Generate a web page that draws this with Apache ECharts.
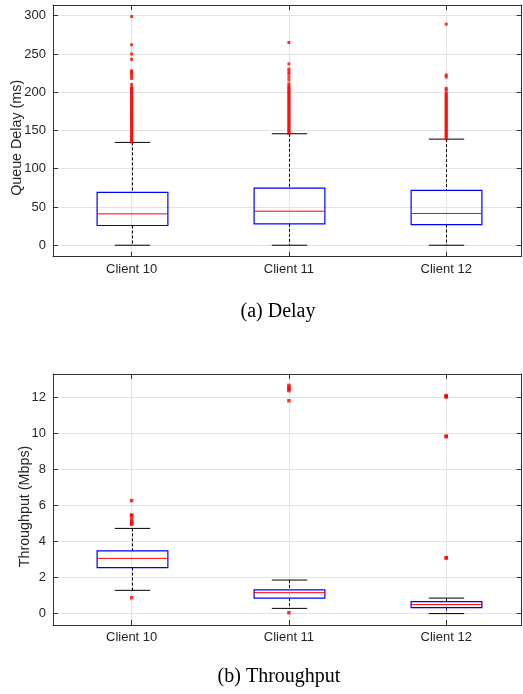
<!DOCTYPE html>
<html>
<head>
<meta charset="utf-8">
<script src="https://cdn.jsdelivr.net/npm/echarts@6/dist/echarts.min.js"></script>
<style>
html, body { margin: 0; padding: 0; background: #fff; }
#main { width: 523px; height: 694px; }
</style>
</head>
<body>
<div id="main"></div>
<script>
var clients = ['Client 10', 'Client 11', 'Client 12']

// box stats per client: [lower whisker, q1, median, q3, upper whisker]
var delayBoxes = [
  [0, 25.8, 41, 69, 134.4],
  [0, 27.9, 44.5, 74.6, 145.7],
  [0, 27, 41.5, 71.6, 138.7]
]
// outliers (the dense parts look like a solid red bar)
var delayOut10 = [135, 137, 139, 141, 143, 145, 147, 149, 151, 153, 155, 157, 159, 161, 163, 165, 167, 169, 171, 173,
  175, 177, 179, 181, 183, 185, 187, 189, 191, 193, 195, 197, 199, 201, 203, 205, 206, 210, 218, 221, 224, 226, 228,
  243, 250, 262, 299]
var delayOut11 = [146, 148, 150, 152, 154, 156, 158, 160, 162, 164, 166, 168, 170, 172, 174, 176, 178, 180, 182, 184,
  186, 188, 190, 192, 194, 196, 198, 200, 202, 204, 206, 208, 211, 216, 220, 224, 227, 230, 237, 265]
var delayOut12 = [139, 141, 143, 145, 147, 149, 151, 153, 155, 157, 159, 161, 163, 165, 167, 169, 171, 173, 175, 177,
  179, 181, 183, 185, 187, 189, 191, 193, 195, 197, 199, 202.6, 205, 220, 222.5, 289]

var thrBoxes = [
  [1.29, 2.55, 3.06, 3.47, 4.72],
  [0.29, 0.86, 1.16, 1.31, 1.86],
  [0, 0.33, 0.5, 0.66, 0.86]
]
var thrOut10 = [0.88, 4.95, 5.02, 5.1, 5.24, 5.42, 5.46, 6.26]
var thrOut11 = [0.05, 11.79, 12.35, 12.44, 12.5, 12.64]
var thrOut12 = [3.08, 3.1, 9.8, 9.83, 12.0, 12.03, 12.07]

// axis ranges (matlab pads the data range by 5%)
var delayRange = [-15, 314], delayStep = 50
var thrRange = [-0.63, 13.27], thrStep = 2

var axisColor = '#333'
var textColor = '#262626'
var gridColor = '#e3e3e3'
var sans = 'Liberation Sans, Arial, sans-serif'

function boxData(boxes) {
  return boxes.map(function(b, i) { return [i + 1].concat(b) })
}
function outData(lists) {
  var out = []
  lists.forEach(function(l, i) {
    l.forEach(function(v) { out.push([i + 1, v]) })
  })
  return out
}

function renderBox(params, api) {
  var x = api.value(0)
  var lo = api.coord([x, api.value(1)])
  var q1 = api.coord([x, api.value(2)])
  var med = api.coord([x, api.value(3)])
  var q3 = api.coord([x, api.value(4)])
  var hi = api.coord([x, api.value(5)])
  var unit = api.size([1, 0])[0]
  var bw = unit * 0.45
  var cw = unit * 0.225
  var cx = Math.round(lo[0]) + 0.5
  var dash = { stroke: '#000', lineWidth: 1, lineDash: [3, 2] }
  var solid = { stroke: '#000', lineWidth: 1 }
  return {
    type: 'group',
    children: [
      { type: 'line', shape: { x1: cx, y1: hi[1], x2: cx, y2: q3[1] }, style: dash },
      { type: 'line', shape: { x1: cx, y1: q1[1], x2: cx, y2: lo[1] }, style: dash },
      { type: 'line', shape: { x1: cx - cw / 2, y1: hi[1], x2: cx + cw / 2, y2: hi[1] }, style: solid },
      { type: 'line', shape: { x1: cx - cw / 2, y1: lo[1], x2: cx + cw / 2, y2: lo[1] }, style: solid },
      { type: 'rect', shape: { x: cx - bw / 2, y: q3[1], width: bw, height: q1[1] - q3[1] },
        style: { fill: 'none', stroke: '#0000ff', lineWidth: 1.2 } },
      { type: 'line', shape: { x1: cx - bw / 2, y1: med[1], x2: cx + bw / 2, y2: med[1] },
        style: { stroke: '#ff0000', lineWidth: 1 } }
    ]
  }
}

function xAxes(gi) {
  var base = {
    type: 'value', gridIndex: gi, min: 0.5, max: 3.48, minInterval: 1, maxInterval: 1,
    axisLine: { onZero: false, lineStyle: { color: axisColor } },
    axisTick: { inside: true, length: 5, lineStyle: { color: axisColor } }
  }
  return [
    Object.assign({}, base, {
      position: 'bottom',
      axisLabel: {
        showMinLabel: false, showMaxLabel: false, margin: 6,
        color: textColor, fontSize: 13, fontFamily: sans,
        formatter: function(v) { return clients[v - 1] || '' }
      },
      splitLine: { show: true, lineStyle: { color: gridColor } }
    }),
    Object.assign({}, base, {
      position: 'top', axisLabel: { show: false }, splitLine: { show: false }
    })
  ]
}

function yAxes(gi, range, step, name, gap) {
  var base = {
    type: 'value', gridIndex: gi, min: range[0], max: range[1], minInterval: step, maxInterval: step,
    axisLine: { show: true, onZero: false, lineStyle: { color: axisColor } },
    axisTick: { show: true, inside: true, length: 5, lineStyle: { color: axisColor } }
  }
  return [
    Object.assign({}, base, {
      position: 'left',
      name: name, nameLocation: 'middle', nameGap: gap, nameMoveOverlap: false,
      nameTextStyle: { color: textColor, fontSize: 14.3, fontFamily: sans, padding: [0, 14, 0, 0] },
      axisLabel: {
        showMinLabel: false, showMaxLabel: false, margin: 7,
        color: textColor, fontSize: 13, fontFamily: sans
      },
      splitLine: { show: true, lineStyle: { color: gridColor } }
    }),
    Object.assign({}, base, {
      position: 'right', axisLabel: { show: false }, splitLine: { show: false }
    })
  ]
}

var chart = echarts.init(document.getElementById('main'))
chart.setOption({
  animation: false,
  backgroundColor: '#fff',
  title: [
    { text: '(a) Delay', left: 278, top: 302, textAlign: 'center', padding: 0,
      textStyle: { fontFamily: 'Liberation Serif, Times New Roman, serif', fontSize: 20, fontWeight: 'normal', color: '#000' } },
    { text: '(b) Throughput', left: 279, top: 667, textAlign: 'center', padding: 0,
      textStyle: { fontFamily: 'Liberation Serif, Times New Roman, serif', fontSize: 20, fontWeight: 'normal', color: '#000' } }
  ],
  grid: [
    { left: 53, top: 5, width: 468.7, height: 251.7, containLabel: false, outerBoundsMode: 'none' },
    { left: 53, top: 374, width: 468.7, height: 251, containLabel: false, outerBoundsMode: 'none' }
  ],
  xAxis: xAxes(0).concat(xAxes(1)),
  yAxis: yAxes(0, delayRange, delayStep, 'Queue Delay (ms)', 29)
    .concat(yAxes(1, thrRange, thrStep, 'Throughput (Mbps)', 21)),
  series: [
    {
      type: 'custom', xAxisIndex: 0, yAxisIndex: 0, renderItem: renderBox,
      encode: { x: 0, y: [1, 2, 3, 4, 5] }, data: boxData(delayBoxes), z: 2
    },
    {
      type: 'scatter', xAxisIndex: 0, yAxisIndex: 0, symbol: 'rect', symbolSize: 3,
      itemStyle: { color: '#ff0000' }, data: outData([delayOut10, delayOut11, delayOut12]), z: 3
    },
    {
      type: 'custom', xAxisIndex: 2, yAxisIndex: 2, renderItem: renderBox,
      encode: { x: 0, y: [1, 2, 3, 4, 5] }, data: boxData(thrBoxes), z: 2
    },
    {
      type: 'scatter', xAxisIndex: 2, yAxisIndex: 2, symbol: 'rect', symbolSize: 3.5,
      itemStyle: { color: '#ff0000' }, data: outData([thrOut10, thrOut11, thrOut12]), z: 3
    }
  ]
})
</script>
</body>
</html>
